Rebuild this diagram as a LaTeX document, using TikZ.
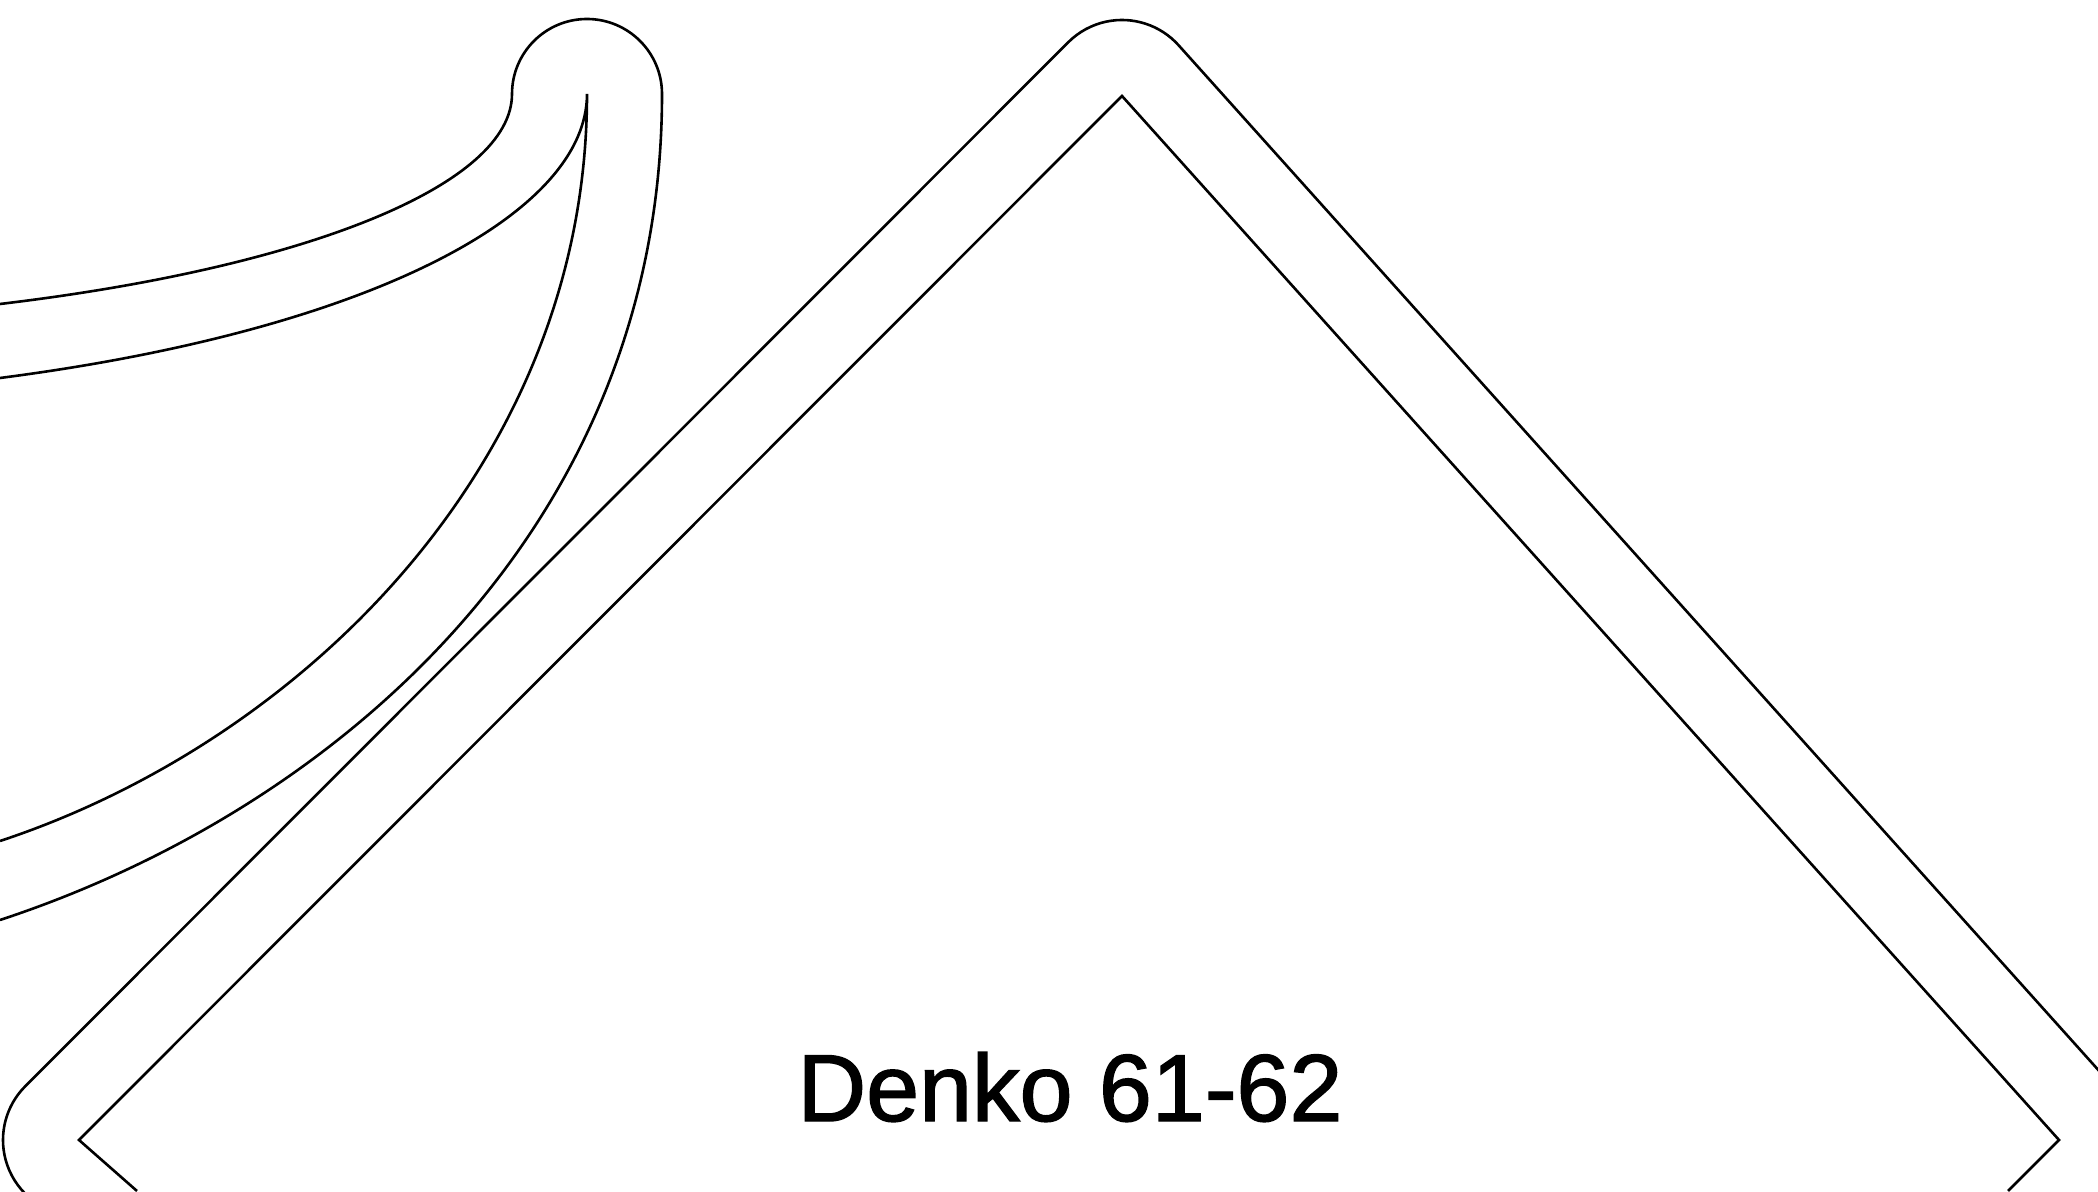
\documentclass[tikz,border=0pt]{standalone}
\usepackage{fontspec}
\setmainfont{Liberation Sans}
\newfontfamily\labelfont{Liberation Sans}[FakeBold=1.5]
\usetikzlibrary{calc}
\tikzset{outline/.style={draw=black,line width=2.6pt,line join=miter}}
\begin{document}
\begin{tikzpicture}[x=1pt,y=1pt]
\useasboundingbox (0,0) rectangle (2098,1191);
\clip (0,0) rectangle (2098,1191);
\coordinate (apex) at (1122,1095);
\coordinate (leftc) at (79,51);
\coordinate (rightc) at (2059,51);
\coordinate (lowl) at (137,0);
\coordinate (lowr) at (2008,0);
\coordinate (tip) at (587,1097);
\coordinate (capl) at (512,1097);
\coordinate (capr) at (662,1097);
% inner diamond
\draw[outline] (lowl) -- (leftc) -- (apex) -- (rightc) -- (lowr);
% outer offset outline of the diamond
\draw[outline] ($(rightc)+(41.9:76)$) -- ($(apex)+(41.9:76)$)
  arc[start angle=41.9,end angle=135,radius=76]
  -- ($(leftc)+(135:76)$)
  arc[start angle=135,end angle=228.7,radius=76];
% inner leaf
\draw[outline] (0,350) .. controls (300,449) and (587,727) .. (tip)
  .. controls (587,977) and (370,861) .. (0,813);
% outer leaf
\draw[outline] (0,271) .. controls (340,383) and (662,667) .. (capr)
  arc[start angle=0,end angle=180,radius=75]
  .. controls (512,1007) and (310,924) .. (0,887);
\node[anchor=base,inner sep=0pt,font=\labelfont\fontsize{95.2}{110}\selectfont] (label) at (1070,70) {Denko 61-62};
\end{tikzpicture}
\end{document}
